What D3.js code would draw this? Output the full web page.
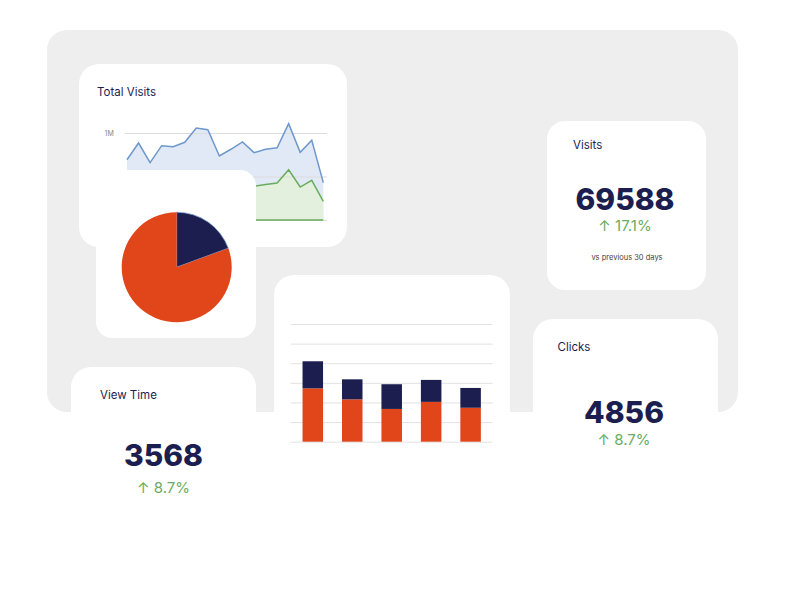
<!DOCTYPE html>
<html>
<head>
<meta charset="utf-8">
<script src="https://cdn.jsdelivr.net/npm/d3@7"></script>
<style>
  html, body { margin: 0; padding: 0; background: #ffffff; }
  svg { display: block; }
</style>
</head>
<body>
<div id="wrapper"></div>
<script>
// data
const days = d3.range(1, 19).map(d => "Day " + d)
const totalVisits = [693000, 885000, 659000, 854000, 843000, 893000, 1057000, 1038000, 736000,
                     813000, 897000, 774000, 813000, 831000, 1107000, 778000, 916000, 429000]
const uniqueVisits = [320000, 410000, 300000, 390000, 380000, 420000, 490000, 470000, 340000,
                      370000, 410000, 387000, 408000, 425000, 578000, 379000, 456000, 215000]
const visitTicks = [0, 500000, 1000000]
const visitTickLabels = ["", "-", "1M"]

const pieLabels = ["Returning", "New"]
const pieValues = [19.4, 80.6]

const barCategories = ["A", "B", "C", "D", "E"]
const barOrange = [27.2, 21.6, 16.7, 20.3, 17.3]
const barNavy = [13.8, 10.2, 12.6, 11.2, 10.1]
const barTicks = [0, 10, 20, 30, 40, 50, 60]

const kpiTitles = ["Visits", "View Time", "Clicks"]
const kpiValues = [69588, 3568, 4856]
const kpiChanges = [17.1, 8.7, 8.7]

const navy = "#1c1e50"
const orange = "#e0461a"
const green = "#6aac5f"
const blueLine = "#6e98cc"

const svg = d3.select("#wrapper")
  .append("svg")
  .attr("width", 800)
  .attr("height", 600)

// background panel
svg.append("rect")
  .attr("x", 47).attr("y", 30)
  .attr("width", 691).attr("height", 382)
  .attr("rx", 20)
  .attr("fill", "#eeeeee")

function card(x, y, w, h, r) {
  return svg.append("rect")
    .attr("x", x).attr("y", y)
    .attr("width", w).attr("height", h)
    .attr("rx", r)
    .attr("fill", "#ffffff")
}

const titleFont = "Inter, 'Open Sans', sans-serif"

//1_Total visits card
card(79, 64, 268, 183, 20)
svg.append("text")
  .attr("x", 97).attr("y", 96)
  .text("Total Visits")
  .attr("fill", navy)
  .style("font-size", "11.5px")
  .style("font-family", titleFont)

const xLine = d3.scalePoint()
  .domain(days)
  .range([127, 323.3])
const yLine = d3.scaleLinear()
  .domain([0, 1000000])
  .range([220, 133])

const lineGroup = svg.append("g")

lineGroup.append("path")
  .datum(totalVisits)
  .attr("d", d3.area()
    .x((d, i) => xLine(days[i]))
    .y0(yLine(0))
    .y1(d => yLine(d)))
  .attr("fill", "#e2e9f6")

lineGroup.append("path")
  .datum(uniqueVisits)
  .attr("d", d3.area()
    .x((d, i) => xLine(days[i]))
    .y0(yLine(0))
    .y1(d => yLine(d)))
  .attr("fill", "#e3f0dd")

const yAxisLine = lineGroup.append("g")
  .attr("transform", "translate(124.7,0)")
  .call(d3.axisLeft(yLine)
    .tickValues(visitTicks)
    .tickFormat((d, i) => visitTickLabels[i])
    .tickSize(-202.3)
    .tickPadding(11))
yAxisLine.select(".domain").remove()
yAxisLine.selectAll(".tick line").attr("stroke", "#dcdcdc")
yAxisLine.selectAll(".tick text")
  .attr("fill", "#888888")
  .style("font-size", "7px")
  .style("font-family", titleFont)

lineGroup.append("path")
  .datum(totalVisits)
  .attr("d", d3.line().x((d, i) => xLine(days[i])).y(d => yLine(d)))
  .attr("fill", "none")
  .attr("stroke", blueLine)
  .attr("stroke-width", 1.5)

lineGroup.append("path")
  .datum(uniqueVisits)
  .attr("d", d3.line().x((d, i) => xLine(days[i])).y(d => yLine(d)))
  .attr("fill", "none")
  .attr("stroke", green)
  .attr("stroke-width", 1.5)

lineGroup.append("line")
  .attr("x1", xLine(days[0])).attr("x2", xLine(days[days.length - 1]))
  .attr("y1", yLine(0)).attr("y2", yLine(0))
  .attr("stroke", green)
  .attr("stroke-width", 1.5)

//2_Pie card
card(96, 170, 160, 168, 16)
const pie = d3.pie().sort(null)(pieValues)
const arc = d3.arc().innerRadius(0).outerRadius(55)
svg.append("g")
  .attr("transform", "translate(176.7,267.2)")
  .selectAll("path")
  .data(pie)
  .join("path")
  .attr("d", arc)
  .attr("fill", (d, i) => i === 0 ? navy : orange)
  .attr("stroke", (d, i) => i === 0 ? "#7fa4d6" : "none")
  .attr("stroke-width", 0.8)

//3_Bar card
card(274, 275, 236, 260, 20)
const xBar = d3.scaleBand()
  .domain(barCategories)
  .range([290.7, 492.7])
  .paddingInner(0.48)
  .paddingOuter(0.3)
const yBar = d3.scaleLinear()
  .domain([0, 60])
  .range([441.7, 324])

const yAxisBar = svg.append("g")
  .attr("transform", "translate(290.7,0)")
  .call(d3.axisLeft(yBar)
    .tickValues(barTicks)
    .tickFormat("")
    .tickSize(-202))
yAxisBar.select(".domain").remove()
yAxisBar.selectAll(".tick line").attr("stroke", "#e2e2e6")

const barData = barCategories.map((c, i) => ({ cat: c, orange: barOrange[i], navy: barNavy[i] }))
const stacked = d3.stack().keys(["orange", "navy"])(barData)
svg.append("g")
  .selectAll("g")
  .data(stacked)
  .join("g")
  .attr("fill", d => d.key === "orange" ? orange : navy)
  .selectAll("rect")
  .data(d => d)
  .join("rect")
  .attr("x", d => xBar(d.data.cat))
  .attr("y", d => yBar(d[1]))
  .attr("width", xBar.bandwidth())
  .attr("height", d => yBar(d[0]) - yBar(d[1]))

//4_KPI cards
const fmtChange = d => "\u2191 " + d + "%"
function kpi(i, cx, titleX, titleY, valueY, changeY) {
  svg.append("text")
    .attr("x", titleX).attr("y", titleY)
    .text(kpiTitles[i])
    .attr("fill", navy)
    .style("font-size", "11.5px")
    .style("font-family", titleFont)
  svg.append("text")
    .attr("x", cx).attr("y", valueY)
    .text(kpiValues[i])
    .attr("fill", navy)
    .style("font-size", "30px")
    .style("font-weight", "800")
    .style("font-family", titleFont)
    .style("text-anchor", "middle")
  svg.append("text")
    .attr("x", cx).attr("y", changeY)
    .text(fmtChange(kpiChanges[i]))
    .attr("fill", green)
    .style("font-size", "15px")
    .style("font-family", titleFont)
    .style("text-anchor", "middle")
}

card(547, 121, 159, 169, 18)
kpi(0, 625, 573, 149, 209.7, 231.3)
svg.append("text")
  .attr("x", 627).attr("y", 259.7)
  .text("vs previous 30 days")
  .attr("fill", "#444444")
  .style("font-size", "7.5px")
  .style("font-family", titleFont)
  .style("text-anchor", "middle")

card(71, 367, 185, 200, 20)
kpi(1, 163.5, 100, 399, 466, 493.3)

card(533, 319, 185, 200, 20)
kpi(2, 624, 557.5, 350.7, 423.3, 445)
</script>
</body>
</html>
